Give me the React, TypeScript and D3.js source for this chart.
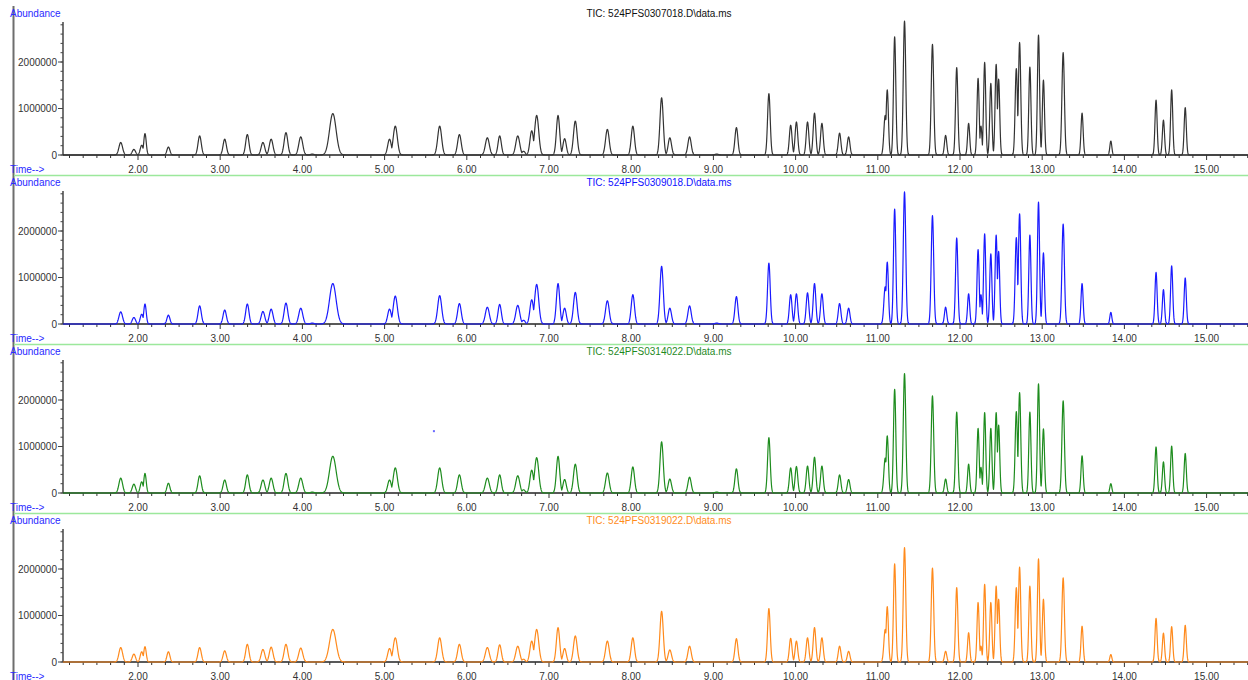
import React from 'react';
import * as d3 from 'd3';

// retention times (min) of the resolved peaks, shared by all four runs
const peakTimes = [
  1.79, 1.95, 2.045, 2.085, 2.37, 2.75, 3.055, 3.33, 3.52, 3.62, 3.8, 3.98, 4.12, 4.37,
  5.06, 5.13, 5.67, 5.91, 6.25, 6.4, 6.62, 6.69, 6.79, 6.85, 7.11, 7.19, 7.32, 7.71, 8.02,
  8.37, 8.47, 8.71, 9.04, 9.28, 9.675, 9.94, 10.01, 10.145, 10.23, 10.32, 10.535, 10.645,
  11.09, 11.115, 11.205, 11.325, 11.665, 11.825, 11.96, 12.105, 12.22, 12.255, 12.3, 12.375,
  12.44, 12.47, 12.685, 12.725, 12.85, 12.955, 13.015, 13.255, 13.485, 13.835, 14.385,
  14.475, 14.575, 14.74,
];

// peak width (sigma, min)
const peakWidths = [
  0.022, 0.02, 0.018, 0.015, 0.018, 0.02, 0.02, 0.02, 0.022, 0.022, 0.022, 0.024, 0.02, 0.04,
  0.022, 0.025, 0.024, 0.022, 0.024, 0.02, 0.024, 0.02, 0.022, 0.025, 0.02, 0.02, 0.022, 0.022, 0.02,
  0.02, 0.02, 0.02, 0.02, 0.018, 0.016, 0.016, 0.016, 0.016, 0.016, 0.016, 0.016, 0.016,
  0.016, 0.014, 0.014, 0.015, 0.015, 0.014, 0.014, 0.013, 0.013, 0.012, 0.013, 0.013,
  0.013, 0.013, 0.014, 0.014, 0.013, 0.013, 0.013, 0.015, 0.013, 0.012, 0.013,
  0.013, 0.013, 0.013,
];

// peak heights, millions of counts
const heights0307018 = [
  0.27, 0.12, 0.21, 0.46, 0.17, 0.41, 0.34, 0.44, 0.27, 0.34, 0.48, 0.39, 0.02, 0.89,
  0.34, 0.62, 0.62, 0.44, 0.37, 0.41, 0.41, 0.08, 0.52, 0.85, 0.85, 0.35, 0.73, 0.55, 0.62,
  1.23, 0.37, 0.39, 0.02, 0.59, 1.32, 0.64, 0.71, 0.71, 0.9, 0.68, 0.47, 0.39,
  0.85, 1.4, 2.54, 2.88, 2.38, 0.42, 1.88, 0.68, 1.65, 0.62, 1.99, 1.54,
  1.95, 1.63, 1.86, 2.42, 1.89, 2.58, 1.61, 2.2, 0.9, 0.3, 1.18,
  0.75, 1.4, 1.02,
];
const heights0309018 = [
  0.26, 0.14, 0.21, 0.43, 0.19, 0.39, 0.3, 0.43, 0.27, 0.32, 0.45, 0.34, 0.02, 0.87,
  0.32, 0.6, 0.61, 0.44, 0.36, 0.42, 0.4, 0.08, 0.52, 0.85, 0.87, 0.34, 0.68, 0.5, 0.63,
  1.24, 0.34, 0.39, 0.02, 0.59, 1.31, 0.63, 0.65, 0.67, 0.87, 0.65, 0.44, 0.34,
  0.8, 1.33, 2.47, 2.84, 2.33, 0.36, 1.85, 0.65, 1.6, 0.63, 1.94, 1.51,
  1.91, 1.56, 1.86, 2.37, 1.91, 2.62, 1.53, 2.15, 0.87, 0.25, 1.11,
  0.74, 1.25, 0.99,
];
const heights0314022 = [
  0.32, 0.19, 0.24, 0.42, 0.21, 0.37, 0.28, 0.39, 0.28, 0.32, 0.42, 0.32, 0.02, 0.79,
  0.28, 0.54, 0.54, 0.39, 0.32, 0.39, 0.37, 0.07, 0.49, 0.76, 0.79, 0.29, 0.62, 0.43, 0.56,
  1.1, 0.3, 0.34, 0.02, 0.52, 1.19, 0.54, 0.57, 0.58, 0.77, 0.58, 0.39, 0.29,
  0.75, 1.23, 2.23, 2.57, 2.09, 0.3, 1.74, 0.62, 1.39, 0.55, 1.73, 1.39,
  1.73, 1.46, 1.75, 2.16, 1.74, 2.35, 1.38, 1.98, 0.8, 0.2, 0.99,
  0.67, 1.01, 0.85,
];
const heights0319022 = [
  0.31, 0.17, 0.22, 0.33, 0.22, 0.31, 0.24, 0.38, 0.27, 0.32, 0.38, 0.3, 0, 0.7,
  0.29, 0.52, 0.52, 0.38, 0.31, 0.37, 0.34, 0.06, 0.45, 0.7, 0.74, 0.29, 0.56, 0.45, 0.52,
  1.09, 0.26, 0.34, 0, 0.5, 1.15, 0.51, 0.45, 0.52, 0.74, 0.52, 0.34, 0.23,
  0.7, 1.19, 2.11, 2.46, 2.02, 0.23, 1.6, 0.63, 1.28, 0.34, 1.67, 1.28,
  1.63, 1.35, 1.6, 2.04, 1.63, 2.22, 1.35, 1.81, 0.77, 0.16, 0.94,
  0.62, 0.76, 0.79,
];

const runTitles = [
  'TIC: 524PFS0307018.D\\data.ms',
  'TIC: 524PFS0309018.D\\data.ms',
  'TIC: 524PFS0314022.D\\data.ms',
  'TIC: 524PFS0319022.D\\data.ms',
];
const runHeights = [heights0307018, heights0309018, heights0314022, heights0319022];

// stray marker seen in the third run: [time, millions]
const strayPoint = [5.6, 1.33];

const yTickValues = [0, 1, 2];
const xTickValues = d3.range(2, 16);

const traceColors = ['#333333', '#1a1aff', '#1e8c1e', '#ff8a1c'];
const titleColors = ['#111111', '#1010ff', '#1f8a1f', '#ff8c1a'];
const labelBlue = '#2a2aff';
const font = '"Liberation Sans", Arial, sans-serif';

const W = 1248;
const H = 680;
const panelStep = 169;
const base = 155; // zero line of first panel
const axisX = 63;

export default function App() {
  const x = d3.scaleLinear().domain([2, 15]).range([138, 1206.6]);
  const tMin = x.invert(axisX);
  const tMax = x.invert(W);
  const y = d3.scaleLinear().domain([0, 1]).range([0, -46.5]);
  const yTop = y.invert(22 - base);

  const samples = d3.range(tMin, tMax, 0.0025);
  const minorX = d3.range(Math.ceil(tMin * 6), Math.floor(tMax * 6) + 1)
    .map(i => i / 6)
    .filter(t => Math.abs(t - Math.round(t)) > 1e-6);
  const minorY = d3.range(0, yTop, 0.2);

  const traceFor = (h: number[]) =>
    samples.map(t => {
      let v = 0;
      for (let k = 0; k < peakTimes.length; k++) {
        const d = t - peakTimes[k];
        const s = peakWidths[k];
        if (Math.abs(d) > 5 * s) continue;
        v = Math.max(v, h[k] * Math.exp(-0.5 * (d / s) * (d / s)));
      }
      return [t, v] as [number, number];
    });

  const line = d3.line<[number, number]>()
    .x(d => x(d[0]))
    .y(d => y(d[1]));

  return (
    <svg width={W} height={H} style={{ position: 'absolute', left: 0, top: 0, background: '#fff' }}
      fontFamily={font} fontSize={10}>
      <line x1={13.5} x2={13.5} y1={6} y2={H} stroke="#6e6e6e" strokeWidth={2} />
      {runTitles.map((title, i) => {
        const oy = i * panelStep + base;
        return (
          <g key={title} transform={`translate(0,${oy})`}>
            <text x={10} y={17 - base} fill={labelBlue}>Abundance</text>
            <text x={659} y={17 - base} textAnchor="middle" fill={titleColors[i]}>{title}</text>
            {/* y axis */}
            <line x1={axisX} x2={axisX} y1={y(yTop)} y2={0} stroke="#444" strokeWidth={1.5} />
            {minorY.map(v => (
              <line key={'my' + v} x1={axisX - 2.5} x2={axisX} y1={y(v)} y2={y(v)} stroke="#444" />
            ))}
            {yTickValues.map(v => (
              <g key={'y' + v}>
                <line x1={axisX - 5} x2={axisX} y1={y(v)} y2={y(v)} stroke="#444" />
                <text x={axisX - 6} y={y(v)} dy="0.35em" textAnchor="end" fill="#333">
                  {d3.format('d')(v * 1e6)}
                </text>
              </g>
            ))}
            {/* x axis */}
            <line x1={axisX} x2={W} y1={0} y2={0} stroke="#222" strokeWidth={1.5} />
            {minorX.map(t => (
              <line key={'mx' + t} x1={x(t)} x2={x(t)} y1={0} y2={3} stroke="#333" />
            ))}
            {xTickValues.map(t => (
              <g key={'x' + t}>
                <line x1={x(t)} x2={x(t)} y1={0} y2={5} stroke="#333" />
                <text x={x(t)} y={17.5} textAnchor="middle" fill="#333">{d3.format('.2f')(t)}</text>
              </g>
            ))}
            <path d={line(traceFor(runHeights[i])) ?? ''} fill="none" stroke={traceColors[i]}
              strokeWidth={1.2} strokeLinejoin="round" />
            {i === 2 && (
              <rect x={x(strayPoint[0]) - 1} y={y(strayPoint[1]) - 1} width={2} height={2} fill="#6a6aff" />
            )}
            <text x={10} y={17.5} fill={labelBlue}>{'Time-->'}</text>
            <line x1={14} x2={W} y1={20.5} y2={20.5} stroke="#9ce89c" strokeWidth={1.5} />
          </g>
        );
      })}
    </svg>
  );
}
